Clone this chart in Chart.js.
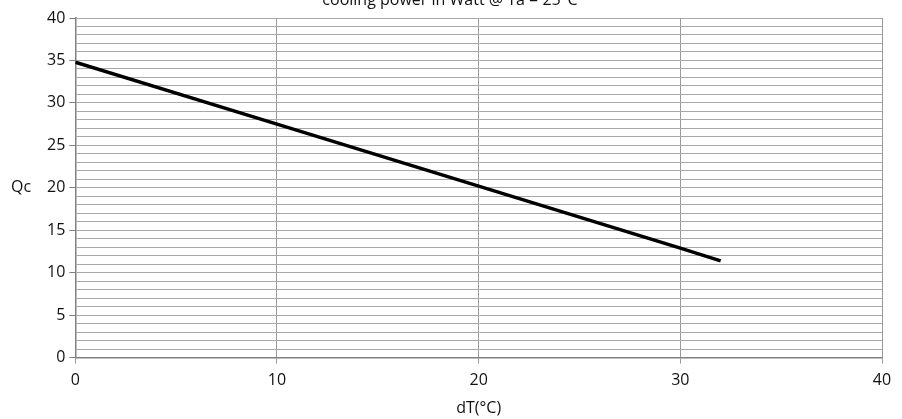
<!DOCTYPE html>
<html>
<head>
<meta charset="utf-8">
<script src="https://cdn.jsdelivr.net/npm/chart.js@4.4.1/dist/chart.umd.min.js"></script>
<style>
    html, body { margin: 0; padding: 0; background: #fff; overflow: hidden; }
    #wrap { position: relative; width: 902px; height: 419px; }
</style>
</head>
<body>
<div id="wrap"><canvas id="coolingChart" width="902" height="419"></canvas></div>
<script>
// Dữ liệu
const dT = [0, 10, 20, 30, 32]
const qc = [34.8, 27.5, 20.2, 12.9, 11.4]
const xTicks = [0, 10, 20, 30, 40]
const yLabelTicks = [0, 5, 10, 15, 20, 25, 30, 35, 40]

const titleText = 'cooling power in Watt @ Ta = 25°C'
const fontFamily = '"Open Sans", "DejaVu Sans", sans-serif'

// Vẽ tiêu đề (bị cắt ở trên) và nhãn "Qc"
const extraText = {
    id: 'extraText',
    afterDraw(chart) {
        const c = chart.ctx
        c.save()
        c.fillStyle = '#111'
        c.font = '16px ' + fontFamily
        c.textAlign = 'center'
        c.textBaseline = 'alphabetic'
        c.fillText(titleText, 450, 5)
        c.textAlign = 'left'
        c.textBaseline = 'middle'
        c.fillText('Qc', 11, chart.scales.y.getPixelForValue(20))
        c.restore()
    }
}

new Chart(document.getElementById('coolingChart'), {
    type: 'line',
    data: {
        datasets: [{
            data: dT.map((x, i) => ({ x: x, y: qc[i] })),
            borderColor: '#000',
            borderWidth: 3.5,
            pointRadius: 0,
            tension: 0,
            fill: false
        }]
    },
    options: {
        responsive: false,
        animation: false,
        layout: { padding: { top: 18, right: 20, left: 43, bottom: 0 } },
        plugins: {
            legend: { display: false },
            tooltip: { enabled: false }
        },
        scales: {
            x: {
                type: 'linear',
                min: 0,
                max: 40,
                afterBuildTicks: axis => { axis.ticks = xTicks.map(v => ({ value: v })) },
                ticks: { color: '#111', font: { family: fontFamily, size: 16 }, padding: 7 },
                grid: { color: '#9a9a9a', lineWidth: 1, tickLength: 6, tickColor: '#9a9a9a' },
                border: { color: '#808080', width: 1.5 },
                title: {
                    display: true,
                    text: 'dT(°C)',
                    color: '#111',
                    font: { family: fontFamily, size: 16 },
                    padding: { top: 2, bottom: 1 }
                }
            },
            y: {
                min: 0,
                max: 40,
                ticks: {
                    stepSize: 1,
                    autoSkip: false,
                    color: '#111',
                    font: { family: fontFamily, size: 16 },
                    padding: 4,
                    callback: v => yLabelTicks.includes(v) ? v : ''
                },
                grid: {
                    color: '#a8a8a8',
                    lineWidth: 1,
                    tickLength: 6,
                    tickColor: ctx => (ctx.tick && ctx.tick.value % 5 === 0) ? '#808080' : 'rgba(0,0,0,0)'
                },
                border: { color: '#808080', width: 1.5 }
            }
        }
    },
    plugins: [extraText]
})
</script>
</body>
</html>
